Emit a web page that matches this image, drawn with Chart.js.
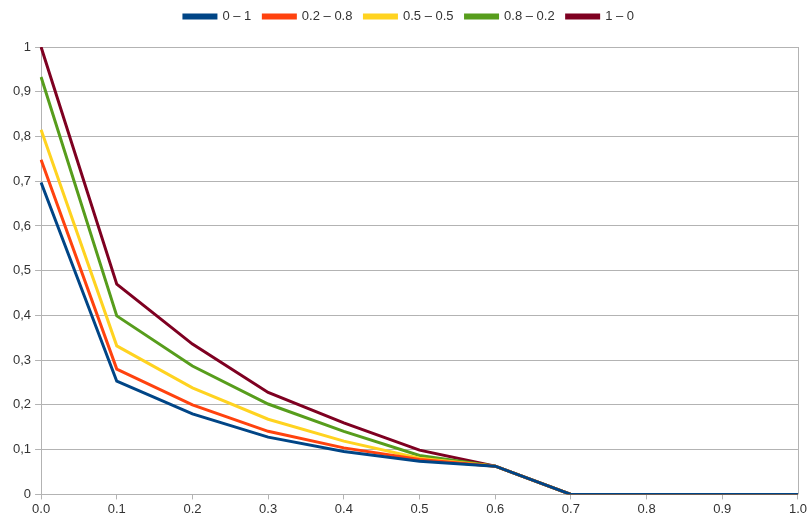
<!DOCTYPE html>
<html>
<head>
<meta charset="utf-8">
<script src="https://cdn.jsdelivr.net/npm/chart.js@4"></script>
<style>
  html, body { margin: 0; padding: 0; background: #fff; overflow: hidden; }
  #wrap { width: 809px; height: 519px; position: relative; }
</style>
</head>
<body>
<div id="wrap"><canvas id="chart"></canvas></div>
<script>
const xLabels = ['0.0', '0.1', '0.2', '0.3', '0.4', '0.5', '0.6', '0.7', '0.8', '0.9', '1.0'];

const series01 = [0.697, 0.253, 0.180, 0.128, 0.096, 0.074, 0.063, 0, 0, 0, 0];
const series0208 = [0.748, 0.280, 0.200, 0.141, 0.104, 0.078, 0.063, 0, 0, 0, 0];
const series0505 = [0.815, 0.332, 0.238, 0.168, 0.119, 0.081, 0.063, 0, 0, 0, 0];
const series0802 = [0.933, 0.399, 0.287, 0.202, 0.141, 0.087, 0.063, 0, 0, 0, 0];
const series10 = [1.0, 0.470, 0.336, 0.228, 0.160, 0.099, 0.063, 0, 0, 0, 0];

const seriesNames = ['0 – 1', '0.2 – 0.8', '0.5 – 0.5', '0.8 – 0.2', '1 – 0'];
const seriesColors = ['#004586', '#ff420e', '#ffd320', '#579d1c', '#7e0021'];
const seriesData = [series01, series0208, series0505, series0802, series10];

const gridColor = '#b3b3b3';
const textColor = '#333333';

Chart.defaults.font.family = '"Liberation Sans", Arial, sans-serif';
Chart.defaults.font.size = 13;
Chart.defaults.color = textColor;

// right frame line of the plot area
const frameRight = {
    id: 'frameRight',
    beforeDatasetsDraw(chart) {
        const { ctx, chartArea } = chart;
        ctx.save();
        ctx.strokeStyle = gridColor;
        ctx.lineWidth = 1;
        ctx.beginPath();
        ctx.moveTo(Math.round(chartArea.right) + 0.5, chartArea.top);
        ctx.lineTo(Math.round(chartArea.right) + 0.5, chartArea.bottom);
        ctx.stroke();
        ctx.restore();
    }
};

// extra gap between legend and plot
const legendGap = {
    id: 'legendGap',
    beforeInit(chart) {
        const fit = chart.legend.fit;
        chart.legend.fit = function () {
            fit.bind(chart.legend)();
            this.height += 14;
        };
    }
};

new Chart(document.getElementById('chart').getContext('2d'), {
    type: 'line',
    data: {
        labels: xLabels,
        datasets: seriesData.map((d, i) => ({
            label: seriesNames[i],
            data: d,
            borderColor: seriesColors[i],
            backgroundColor: seriesColors[i],
            borderWidth: 3,
            pointRadius: 0,
            tension: 0,
            fill: false
        }))
    },
    options: {
        responsive: true,
        maintainAspectRatio: false,
        animation: false,
        layout: { padding: { top: -2, left: 9, right: 0, bottom: 0 } },
        plugins: {
            legend: {
                position: 'top',
                labels: {
                    boxWidth: 32,
                    boxHeight: 3,
                    padding: 12,
                    color: textColor,
                    font: { size: 13 }
                }
            },
            tooltip: { enabled: false }
        },
        scales: {
            x: {
                type: 'category',
                offset: false,
                grid: {
                    drawOnChartArea: false,
                    drawTicks: true,
                    tickLength: 5,
                    color: gridColor
                },
                border: { color: gridColor },
                ticks: {
                    color: textColor,
                    maxRotation: 0,
                    autoSkip: false,
                    padding: 2
                }
            },
            y: {
                min: 0,
                max: 1,
                grid: {
                    color: gridColor,
                    tickLength: 6
                },
                border: { color: gridColor },
                ticks: {
                    stepSize: 0.1,
                    color: textColor,
                    padding: 4,
                    callback: v => String(Math.round(v * 10) / 10).replace('.', ',')
                }
            }
        }
    },
    plugins: [frameRight, legendGap]
});
</script>
</body>
</html>
